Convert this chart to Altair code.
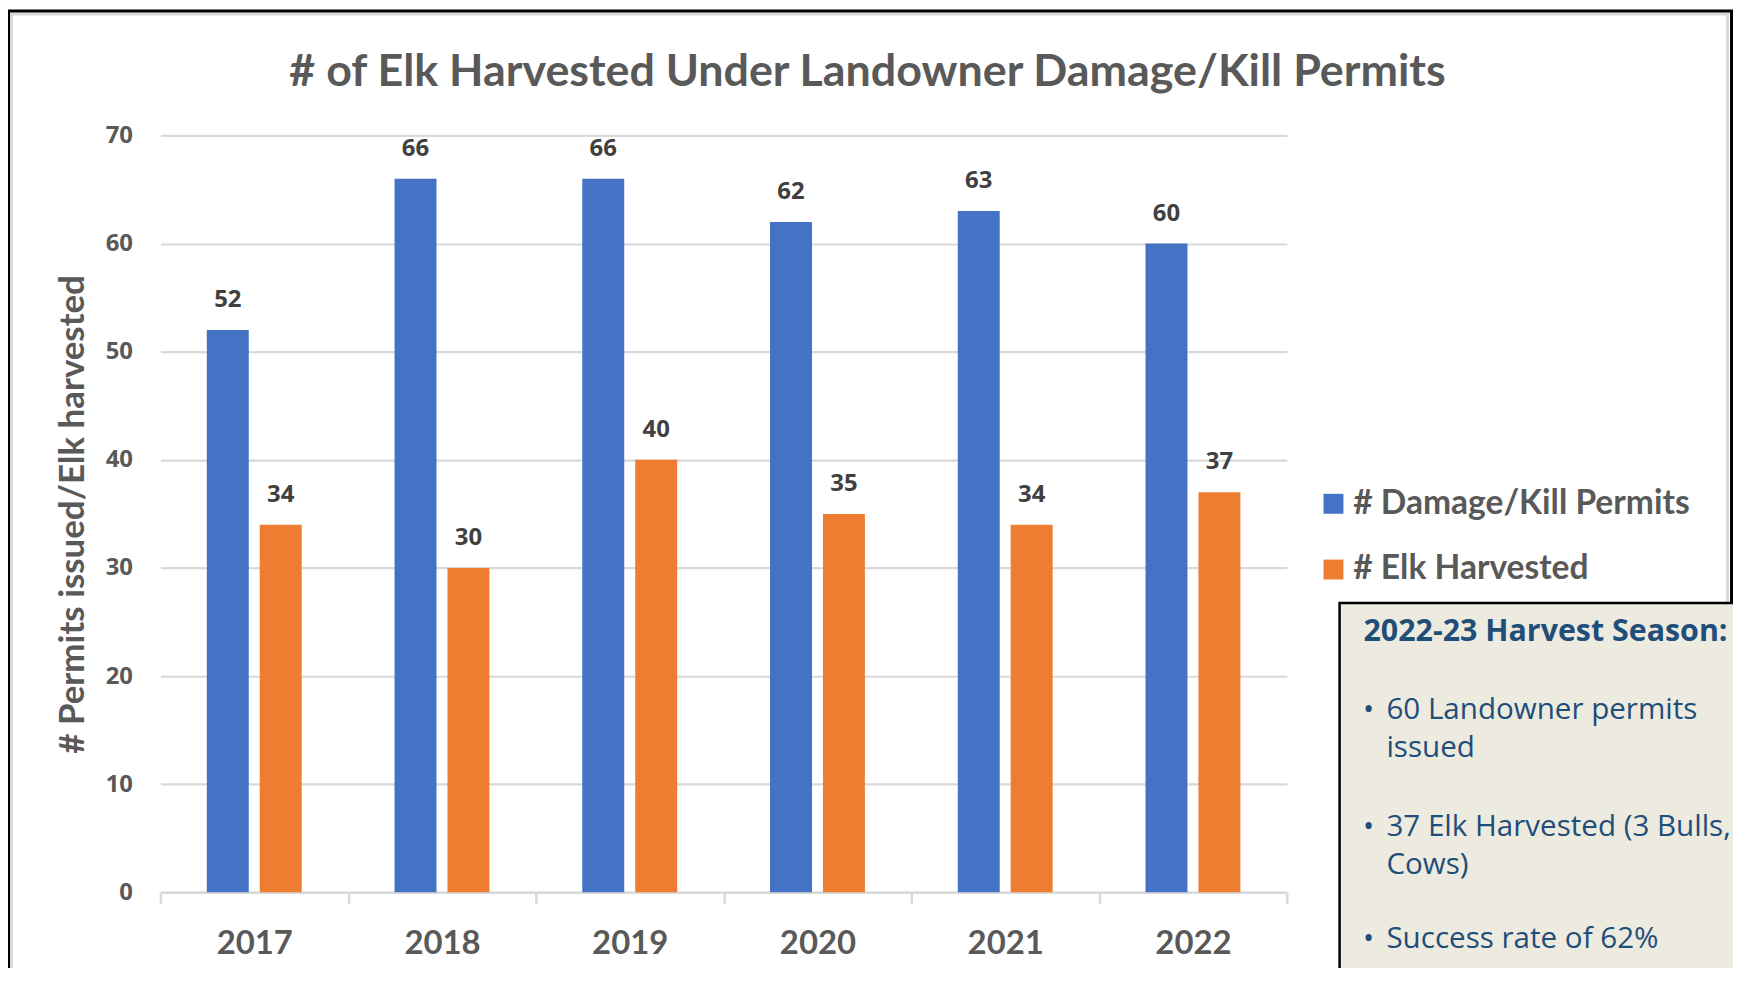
import altair as alt
import pandas as pd

# ---------------- data ----------------
years = ["2017", "2018", "2019", "2020", "2021", "2022"]
permits = [52, 66, 66, 62, 63, 60]
harvested = [34, 30, 40, 35, 34, 37]
series_names = ["# Damage/Kill Permits", "# Elk Harvested"]
series_colors = ["#4472C4", "#ED7D31"]
y_ticks = [0, 10, 20, 30, 40, 50, 60, 70]

chart_title = "# of Elk Harvested Under Landowner Damage/Kill Permits"
y_title = "# Permits issued/Elk harvested"

box_title = "2022-23  Harvest Season:"
box_lines = ["60 Landowner permits", "issued", "37 Elk Harvested (3 Bulls,", "Cows)", "Success rate of 62%"]
box_bullet = [True, False, True, False, True]

# ---------------- styling ----------------
NARROW = "Lato, sans-serif"
WIDE = "Open Sans, DejaVu Sans, sans-serif"
GRAY_TXT = "#595959"
GRID = "#D9D9D9"
BOX_TXT = "#1F4E79"

W, H = 1131, 760

rows = []
for i, y in enumerate(years):
    rows.append({"year": y, "series": series_names[0], "value": permits[i]})
    rows.append({"year": y, "series": series_names[1], "value": harvested[i]})
df = pd.DataFrame(rows)

x_enc = alt.X(
    "year:N",
    sort=years,
    scale=alt.Scale(paddingInner=0, paddingOuter=0),
    axis=alt.Axis(
        title=None,
        labelAngle=0,
        labelFont=NARROW,
        labelFontSize=33,
        labelFontWeight="bold",
        labelColor=GRAY_TXT,
        labelPadding=24,
        ticks=True,
        tickBand="extent",
        tickColor=GRID,
        tickWidth=2.5,
        tickSize=11,
        domainColor=GRID,
        domainWidth=2.5,
        grid=False,
    ),
)
xo_enc = alt.XOffset(
    "series:N", sort=series_names, scale=alt.Scale(paddingInner=0.2075, paddingOuter=0.877)
)
y_enc = alt.Y(
    "value:Q",
    scale=alt.Scale(domain=[0, 70], nice=False),
    axis=alt.Axis(
        values=y_ticks,
        title=y_title,
        titleFont=NARROW,
        titleFontSize=35,
        titleFontWeight="bold",
        titleColor=GRAY_TXT,
        titleAngle=270,
        titleAlign="center",
        titleBaseline="middle",
        titleX=-88,
        titleY=H / 2,
        labelFont=WIDE,
        labelFontSize=24,
        labelFontWeight="bold",
        labelColor=GRAY_TXT,
        labelPadding=28,
        ticks=False,
        domain=False,
        grid=True,
        gridColor=GRID,
        gridWidth=2.2,
    ),
)
color_enc = alt.Color(
    "series:N",
    scale=alt.Scale(domain=series_names, range=series_colors),
    legend=alt.Legend(
        title=None,
        orient="none",
        legendX=1161,
        legendY=353,
        symbolType="square",
        symbolSize=400,
        symbolStrokeWidth=0,
        labelFont=NARROW,
        labelFontSize=33.7,
        labelFontWeight="bold",
        labelColor=GRAY_TXT,
        labelOffset=3,
        rowPadding=31,
        labelLimit=500,
    ),
)

one = pd.DataFrame({"k": [0]})

frame = alt.Chart(one).mark_rect(filled=False, stroke="black", strokeWidth=3).encode(
    x=alt.value(-152.5), x2=alt.value(1577.5), y=alt.value(-125), y2=alt.value(950)
)
frame_shadow = alt.Chart(one).mark_rect(filled=False, stroke=GRID, strokeWidth=3).encode(
    x=alt.value(-149.5), x2=alt.value(1573.5), y=alt.value(-122), y2=alt.value(950)
)

bars = alt.Chart(df).mark_bar().encode(x=x_enc, xOffset=xo_enc, y=y_enc, color=color_enc)

labels = alt.Chart(df).mark_text(
    dy=-23, baseline="alphabetic", font=WIDE, fontSize=24, fontWeight="bold", color="#404040"
).encode(x=x_enc, xOffset=xo_enc, y=y_enc, text=alt.Text("value:Q"))

title_mark = alt.Chart(one).mark_text(
    align="center", baseline="alphabetic", font=NARROW, fontSize=45, fontWeight="bold", color=GRAY_TXT
).encode(x=alt.value(710), y=alt.value(-50), text=alt.value(chart_title))

box = alt.Chart(one).mark_rect(fill="#EDEAE0", stroke="black", strokeWidth=2.5).encode(
    x=alt.value(1184), x2=alt.value(1700), y=alt.value(469.5), y2=alt.value(950)
)

box_layers = [
    alt.Chart(one).mark_text(
        align="left", baseline="alphabetic", font=WIDE, fontSize=30.5, fontWeight="bold", color=BOX_TXT
    ).encode(x=alt.value(1208), y=alt.value(508), text=alt.value(box_title))
]
line_y = [586, 624.5, 703, 741.5, 816]
for txt, bul, yy in zip(box_lines, box_bullet, line_y):
    box_layers.append(
        alt.Chart(one).mark_text(
            align="left", baseline="alphabetic", font=WIDE, fontSize=29.7, color=BOX_TXT
        ).encode(x=alt.value(1231), y=alt.value(yy), text=alt.value(txt))
    )
    if bul:
        box_layers.append(
            alt.Chart(one).mark_text(
                align="center", baseline="alphabetic", font=WIDE, fontSize=29.7, color=BOX_TXT
            ).encode(x=alt.value(1213), y=alt.value(yy), text=alt.value("•"))
        )

chart = alt.layer(frame_shadow, frame, title_mark, bars, labels, box, *box_layers).properties(
    width=W,
    height=H,
    background="white",
    padding={"left": 153, "top": 126, "right": 448, "bottom": 74},
    autosize=alt.AutoSizeParams(type="none"),
).configure_view(stroke=None, strokeWidth=0)

chart.save("out.html", embed_options={"renderer": "svg", "actions": False})
